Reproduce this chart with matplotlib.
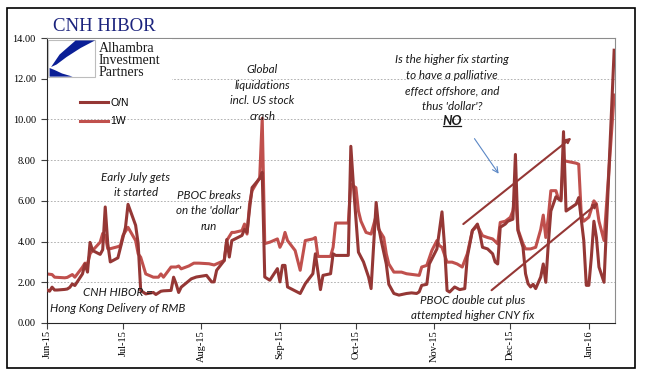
import matplotlib
matplotlib.use("Agg")
import matplotlib.pyplot as plt
import matplotlib.dates as mdates
from matplotlib.ticker import MultipleLocator, FormatStrFormatter
from matplotlib.patches import Polygon, Rectangle
from matplotlib.lines import Line2D
from matplotlib.transforms import IdentityTransform
import pandas as pd

# CNH HIBOR fixings (percent)
on_dates = [
    "2015-06-01", "2015-06-02", "2015-06-03", "2015-06-04", "2015-06-05", "2015-06-08",
    "2015-06-09", "2015-06-10", "2015-06-11", "2015-06-12", "2015-06-15", "2015-06-16",
    "2015-06-17", "2015-06-18", "2015-06-19", "2015-06-22", "2015-06-23", "2015-06-24",
    "2015-06-25", "2015-06-26", "2015-06-29", "2015-06-30", "2015-07-02", "2015-07-03",
    "2015-07-06", "2015-07-07", "2015-07-08", "2015-07-10", "2015-07-13", "2015-07-14",
    "2015-07-16", "2015-07-17", "2015-07-20", "2015-07-21", "2015-07-22", "2015-07-23",
    "2015-07-24", "2015-07-28", "2015-07-30", "2015-08-03", "2015-08-05", "2015-08-06",
    "2015-08-07", "2015-08-10", "2015-08-11", "2015-08-12", "2015-08-13", "2015-08-17",
    "2015-08-18", "2015-08-19", "2015-08-20", "2015-08-21", "2015-08-24", "2015-08-25",
    "2015-08-26", "2015-08-28", "2015-08-31", "2015-09-01", "2015-09-02", "2015-09-03",
    "2015-09-04", "2015-09-09", "2015-09-11", "2015-09-14", "2015-09-15", "2015-09-17",
    "2015-09-18", "2015-09-21", "2015-09-22", "2015-09-23", "2015-09-28", "2015-09-29",
    "2015-09-30", "2015-10-02", "2015-10-04", "2015-10-06", "2015-10-07", "2015-10-09",
    "2015-10-10", "2015-10-11", "2015-10-13", "2015-10-14", "2015-10-16", "2015-10-18",
    "2015-10-21", "2015-10-23", "2015-10-25", "2015-10-26", "2015-10-27", "2015-10-29",
    "2015-10-30", "2015-11-01", "2015-11-02", "2015-11-04", "2015-11-05", "2015-11-06",
    "2015-11-07", "2015-11-09", "2015-11-11", "2015-11-13", "2015-11-14", "2015-11-16",
    "2015-11-18", "2015-11-19", "2015-11-20", "2015-11-22", "2015-11-24", "2015-11-25",
    "2015-11-26", "2015-11-27", "2015-11-29", "2015-11-30", "2015-12-02", "2015-12-03",
    "2015-12-04", "2015-12-06", "2015-12-07", "2015-12-08", "2015-12-09", "2015-12-10",
    "2015-12-11", "2015-12-13", "2015-12-14", "2015-12-15", "2015-12-16", "2015-12-17",
    "2015-12-19", "2015-12-21", "2015-12-22", "2015-12-23", "2015-12-27", "2015-12-28",
    "2015-12-30", "2015-12-31", "2016-01-01", "2016-01-02", "2016-01-03", "2016-01-04",
    "2016-01-05", "2016-01-07", "2016-01-11",
]
on_vals = [
    1.63, 1.56, 1.76, 1.62, 1.62, 1.65,
    1.67, 1.75, 1.92, 1.84, 2.41, 2.90,
    2.50, 3.96, 3.56, 3.37, 3.60, 5.70,
    3.90, 3.00, 3.20, 3.70, 4.70, 5.83,
    4.80, 3.90, 1.60, 1.43, 1.50, 1.40,
    1.56, 1.58, 1.60, 2.25, 1.92, 1.50,
    1.76, 2.17, 2.26, 2.34, 2.02, 2.02,
    2.59, 3.07, 4.10, 3.24, 4.05, 4.30,
    4.60, 4.45, 5.60, 6.65, 7.10, 7.40,
    2.26, 2.10, 2.67, 2.02, 2.83, 2.83,
    1.77, 1.45, 1.93, 2.42, 3.40, 1.64,
    2.34, 2.42, 3.40, 3.32, 3.32, 8.68,
    6.80, 3.48, 3.00, 2.26, 1.69, 5.92,
    4.70, 4.05, 2.90, 1.90, 1.45, 1.37,
    1.45, 1.48, 1.45, 1.53, 1.85, 1.90,
    2.90, 3.40, 3.64, 5.46, 3.80, 1.60,
    1.52, 1.77, 1.64, 1.69, 3.24, 4.54,
    4.86, 4.37, 3.72, 3.64, 3.40, 3.00,
    2.90, 4.70, 4.86, 5.00, 5.10, 8.28,
    4.54, 3.72, 2.42, 1.93, 1.77, 1.90,
    1.69, 2.26, 2.90, 2.00, 3.90, 5.50,
    6.20, 6.00, 9.40, 5.50, 5.84, 6.16,
    4.05, 1.85, 1.85, 3.24, 5.00, 4.20,
    2.75, 2.00, 13.40,
]

w1_dates = [
    "2015-06-01", "2015-06-03", "2015-06-04", "2015-06-08", "2015-06-09", "2015-06-11",
    "2015-06-12", "2015-06-15", "2015-06-16", "2015-06-17", "2015-06-18", "2015-06-19",
    "2015-06-22", "2015-06-23", "2015-06-24", "2015-06-25", "2015-06-26", "2015-06-29",
    "2015-06-30", "2015-07-01", "2015-07-03", "2015-07-06", "2015-07-07", "2015-07-08",
    "2015-07-10", "2015-07-13", "2015-07-15", "2015-07-16", "2015-07-17", "2015-07-20",
    "2015-07-22", "2015-07-23", "2015-07-24", "2015-07-27", "2015-07-29", "2015-07-31",
    "2015-08-04", "2015-08-06", "2015-08-10", "2015-08-11", "2015-08-13", "2015-08-14",
    "2015-08-17", "2015-08-18", "2015-08-19", "2015-08-20", "2015-08-21", "2015-08-24",
    "2015-08-25", "2015-08-26", "2015-08-28", "2015-08-31", "2015-09-01", "2015-09-02",
    "2015-09-03", "2015-09-04", "2015-09-07", "2015-09-09", "2015-09-11", "2015-09-14",
    "2015-09-15", "2015-09-16", "2015-09-21", "2015-09-22", "2015-09-23", "2015-09-28",
    "2015-09-29", "2015-10-01", "2015-10-02", "2015-10-03", "2015-10-05", "2015-10-07",
    "2015-10-09", "2015-10-10", "2015-10-12", "2015-10-13", "2015-10-14", "2015-10-16",
    "2015-10-19", "2015-10-21", "2015-10-26", "2015-10-27", "2015-10-29", "2015-10-31",
    "2015-11-02", "2015-11-03", "2015-11-04", "2015-11-06", "2015-11-08", "2015-11-10",
    "2015-11-12", "2015-11-14", "2015-11-16", "2015-11-18", "2015-11-20", "2015-11-22",
    "2015-11-24", "2015-11-26", "2015-11-27", "2015-11-29", "2015-12-01", "2015-12-02",
    "2015-12-03", "2015-12-04", "2015-12-06", "2015-12-07", "2015-12-09", "2015-12-11",
    "2015-12-13", "2015-12-14", "2015-12-15", "2015-12-16", "2015-12-17", "2015-12-19",
    "2015-12-20", "2015-12-21", "2015-12-22", "2015-12-23", "2015-12-27", "2015-12-28",
    "2015-12-29", "2015-12-30", "2016-01-01", "2016-01-03", "2016-01-04", "2016-01-05",
    "2016-01-07", "2016-01-11",
]
w1_vals = [
    2.41, 2.38, 2.25, 2.22, 2.24, 2.38,
    2.25, 2.74, 2.94, 2.90, 3.40, 3.56,
    3.97, 4.40, 4.30, 3.65, 3.65, 3.75,
    3.80, 4.30, 4.70, 4.05, 3.40, 3.23,
    2.41, 2.25, 2.25, 2.41, 2.25, 2.75,
    2.75, 2.80, 2.66, 2.80, 2.94, 2.94,
    2.91, 2.85, 3.07, 4.05, 4.45, 4.45,
    4.54, 4.86, 4.37, 5.84, 6.50, 7.14,
    10.06, 3.90, 3.97, 4.13, 3.72, 3.97,
    4.45, 4.05, 3.56, 2.59, 4.05, 4.13,
    4.20, 3.27, 3.27, 3.72, 4.91, 4.91,
    6.81, 6.65, 5.50, 5.00, 4.45, 4.37,
    5.27, 4.60, 4.20, 3.40, 2.90, 2.50,
    2.50, 2.42, 2.34, 2.75, 2.83, 3.56,
    4.05, 3.80, 3.72, 2.99, 2.99, 2.90,
    2.75, 3.40, 4.54, 4.78, 4.29, 4.20,
    4.13, 3.89, 4.94, 5.00, 5.19, 5.50,
    6.30, 4.60, 3.89, 3.64, 3.64, 3.72,
    4.60, 5.30, 4.20, 5.20, 6.50, 6.50,
    6.10, 6.10, 7.95, 7.95, 7.85, 7.80,
    5.35, 5.00, 5.20, 6.00, 5.85, 5.00,
    4.05, 11.20,
]

dark = "#953735"
light = "#c0504d"
serif = "Liberation Serif"
note_font = "Lato"

fig = plt.figure(figsize=(6.45, 3.79), dpi=100)
ax = fig.add_axes([47 / 645, 1 - 323 / 379, 568 / 645, 285 / 379])

ax.plot(pd.to_datetime(on_dates), on_vals, color=dark, lw=2.2, label="O/N",
        solid_joinstyle="round", zorder=3)
ax.plot(pd.to_datetime(w1_dates), w1_vals, color=light, lw=2.2, label="1W",
        solid_joinstyle="round", zorder=2)

ax.set_ylim(0, 14)
ax.set_xlim(pd.Timestamp("2015-06-01"), pd.Timestamp("2016-01-11 08:00"))
ax.yaxis.set_major_locator(MultipleLocator(2))
ax.yaxis.set_major_formatter(FormatStrFormatter("%.2f"))
ax.xaxis.set_major_locator(mdates.MonthLocator())
ax.xaxis.set_major_formatter(mdates.DateFormatter("%b-%y"))
ax.tick_params(axis="y", direction="out", length=4, width=0.8, pad=4, labelsize=7.5,
               color="#404040")
ax.tick_params(axis="x", direction="out", length=4, width=0.8, pad=1, labelsize=7.5,
               color="#404040", labelrotation=90)
for lab in ax.get_xticklabels() + ax.get_yticklabels():
    lab.set_family(serif)
ax.grid(axis="y", ls=(0, (2, 2)), color="#a6a6a6", lw=0.6, zorder=0)
for side in ("top", "right"):
    ax.spines[side].set_color("#8c8c8c")
for side in ("left", "bottom"):
    ax.spines[side].set_color("#262626")

ax.legend(loc="upper left", bbox_to_anchor=(0.058, 0.79), frameon=False,
          prop={"family": "Liberation Sans", "size": 7.5}, handlelength=2.7,
          handletextpad=0.2, labelspacing=0.8, borderpad=0, borderaxespad=0)

# annotations
def note(date, y, txt, **kw):
    ax.text(pd.Timestamp(date), y, txt, ha="center", va="center", style="italic",
            family=note_font, fontsize=8.4, linespacing=1.5, color="#1a1a1a", **kw)

note("2015-08-25", 11.3, "Global\nliquidations\nincl. US stock\ncrash")
note("2015-07-06", 6.79, "Early July gets\nit started")
note("2015-08-04", 5.51, "PBOC breaks\non the 'dollar'\nrun")
note("2015-06-29", 1.11, "CNH HIBOR =\nHong Kong Delivery of RMB")
note("2015-11-08", 11.79, "Is the higher fix starting\nto have a palliative\neffect offshore, and\nthus 'dollar'?")
note("2015-11-16", 0.74, "PBOC double cut plus\nattempted higher CNY fix")
no_txt = ax.text(pd.Timestamp("2015-11-08"), 9.9, "NO", ha="center", va="center",
                 style="italic", weight="bold", family=note_font, fontsize=9.5,
                 color="#1a1a1a")

ax.annotate("", xy=(pd.Timestamp("2015-11-27"), 7.22),
            xytext=(pd.Timestamp("2015-11-16 05:00"), 9.17),
            arrowprops=dict(arrowstyle="->", color="#5b87c5", lw=0.8))
ax.annotate("", xy=(pd.Timestamp("2015-12-25 03:00"), 9.1),
            xytext=(pd.Timestamp("2015-11-12 10:00"), 4.86),
            arrowprops=dict(arrowstyle="-|>", color=dark, lw=1.5, mutation_scale=7,
                            shrinkA=0, shrinkB=0))
ax.annotate("", xy=(pd.Timestamp("2016-01-04 16:00"), 5.9),
            xytext=(pd.Timestamp("2015-11-23 14:00"), 1.61),
            arrowprops=dict(arrowstyle="-|>", color=dark, lw=1.5, mutation_scale=7,
                            shrinkA=0, shrinkB=0))

# title
fig.text(53 / 645, 1 - 30.7 / 379, "CNH HIBOR", family=serif, fontsize=13.5,
         color="#1b237d", va="baseline", ha="left")

# logo block (white patch over the grid)
lax = fig.add_axes([47.6 / 645, 1 - 80 / 379, (172 - 47.6) / 645, 41 / 379])
lax.set_xlim(0, 124.4)
lax.set_ylim(41, 0)
lax.axis("off")
lax.add_patch(Rectangle((0, 0), 124.4, 41, fc="white", ec="none"))
lax.add_patch(Rectangle((0.8, 0.5), 46.7, 37.3, fc="white", ec="#bdbdbd", lw=0.8))
lax.add_patch(Polygon([(28.0, 1.5), (47.3, 1.5), (33.0, 9.0), (19.0, 18.0),
                       (9.0, 25.5), (3.5, 28.0), (12.0, 15.5)],
                      closed=True, fc="#0b1f96", ec="none"))
lax.add_patch(Polygon([(2.0, 29.0), (2.0, 37.6), (25.0, 37.6), (14.5, 34.5),
                       (7.0, 31.0)], closed=True, fc="#0b1f96", ec="none"))
for i, word in enumerate(["Alhambra", "Investment", "Partners"]):
    lax.text(50.8, 9.7 + 12 * i, word, family=serif, fontsize=10, color="#1a1a1a",
             va="center", ha="left")

# outer frame
fig.patches.append(Rectangle((7 / 645, 1 - 368 / 379), 628 / 645, 360 / 379,
                             transform=fig.transFigure, fill=False, ec="black", lw=1.2))

# underline the NO
fig.canvas.draw()
bb = no_txt.get_window_extent()
fig.add_artist(Line2D([bb.x0 + 1, bb.x1 - 1], [bb.y0 + 1.5, bb.y0 + 1.5],
                      transform=IdentityTransform(), color="#1a1a1a", lw=0.9))

fig.savefig("out.png", dpi=100)
